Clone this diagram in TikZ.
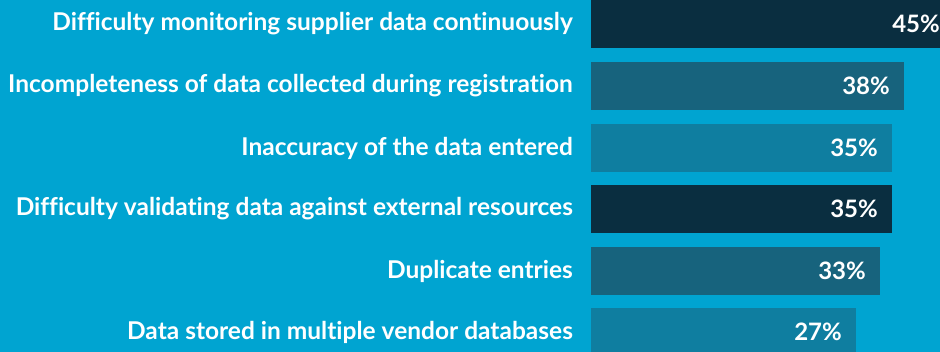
\documentclass[tikz,border=0pt]{standalone}
\usepackage{fontspec}
\setmainfont{Lato}[Ligatures=CommonOff]
\definecolor{bg}{HTML}{00A4D1}
\definecolor{cdark}{HTML}{0A2E40}
\definecolor{cmid}{HTML}{17637D}
\definecolor{clight}{HTML}{0F7EA0}
\tikzset{
  lbl/.style={anchor=east, text=white, font=\bfseries\fontsize{24.5}{28}\selectfont, inner sep=0pt},
  pct/.style={anchor=east, text=white, font=\bfseries\fontsize{24}{28}\selectfont, inner sep=0pt},
  bar/.style={anchor=north west, minimum height=48pt, inner sep=0pt, outer sep=0pt},
}
\begin{document}
\begin{tikzpicture}[x=1pt,y=1pt]
\fill[bg] (0,0) rectangle (940,352);
\useasboundingbox (0,0) rectangle (940,352);
\begin{scope}
\clip (0,0) rectangle (940,352);
\foreach \i/\t/\r/\c/\p/\txt in {
 1/0/945/cdark/45/Difficulty monitoring supplier data continuously,
 2/62/904/cmid/38/Incompleteness of data collected during registration,
 3/124/892/clight/35/Inaccuracy of the data entered,
 4/185/892/cdark/35/Difficulty validating data against external resources,
 5/247/880/cmid/33/Duplicate entries,
 6/308/856/clight/27/Data stored in multiple vendor databases}{
  \node[bar, fill=\c, minimum width={\r-591}] (b\i) at (591,352-\t) {};
  \node[pct] (p\i) at ([xshift={\r>940 ? -5 : -14}]b\i.east |- b\i.center) {\p\%};
  \node[lbl] (l\i) at (573,352-\t-24) {\txt};
}
\end{scope}
\end{tikzpicture}
\end{document}
